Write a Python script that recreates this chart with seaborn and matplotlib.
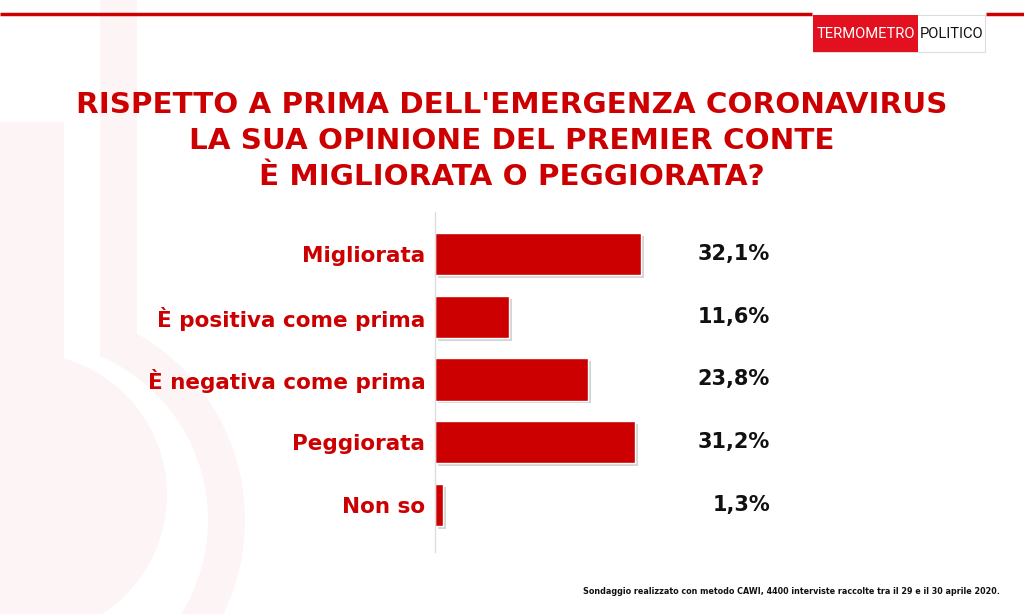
import matplotlib
matplotlib.use("Agg")
import matplotlib.pyplot as plt
import matplotlib.patches as mpatches
import matplotlib.patheffects as pe
import seaborn as sns
import pandas as pd

categories = ["Migliorata", "È positiva come prima", "È negativa come prima", "Peggiorata", "Non so"]
values = [32.1, 11.6, 23.8, 31.2, 1.3]
value_labels = ["32,1%", "11,6%", "23,8%", "31,2%", "1,3%"]
title_lines = "RISPETTO A PRIMA DELL'EMERGENZA CORONAVIRUS\nLA SUA OPINIONE DEL PREMIER CONTE\nÈ MIGLIORATA O PEGGIORATA?"
footer = "Sondaggio realizzato con metodo CAWI, 4400 interviste raccolte tra il 29 e il 30 aprile 2020."

RED = "#cc0000"
FONT = ["DejaVu Sans"]

sns.set_theme(style="white")
plt.rcParams["font.family"] = FONT

W, H = 1024, 614
fig = plt.figure(figsize=(W / 100, H / 100), dpi=100)
fig.patch.set_facecolor("white")

# background decoration axes (pixel coords)
bg = fig.add_axes([0, 0, 1, 1], zorder=0)
bg.set_xlim(0, W)
bg.set_ylim(H, 0)
bg.axis("off")
pink = "#fdf5f5"
bg.add_patch(mpatches.Circle((30, 520), 215, color=pink, lw=0))
bg.add_patch(mpatches.Rectangle((100, 0), 37, 380, color=pink, lw=0))
bg.add_patch(mpatches.Circle((30, 520), 178, color="white", lw=0))
bg.add_patch(mpatches.Rectangle((64, 100), 36, 300, color="white", lw=0))
bg.add_patch(mpatches.Circle((25, 495), 142, color=pink, lw=0))
bg.add_patch(mpatches.Rectangle((0, 122), 64, 300, color=pink, lw=0))

# top red line
bg.plot([0, 812], [14, 14], color=RED, lw=2.5, solid_capstyle="butt")
bg.plot([986, W], [14, 14], color=RED, lw=2.5, solid_capstyle="butt")
# logo
bg.add_patch(mpatches.Rectangle((813, 15), 172, 37, facecolor="white", edgecolor="#dddddd", lw=0.8))
bg.add_patch(mpatches.Rectangle((813, 15), 105, 37, facecolor="#e3101f", lw=0))
bg.text(865.5, 34, "TERMOMETRO", color="white", fontsize=10.6, ha="center", va="center",
        family=["Roboto", "DejaVu Sans"])
bg.text(951.5, 34, "POLITICO", color="#111111", fontsize=10.6, ha="center", va="center",
        family=["Roboto", "DejaVu Sans"])

# title
bg.text(512, 141, title_lines, color=RED, fontsize=21.2, fontweight="bold", ha="center", va="center",
        linespacing=1.38)
# footer
bg.text(1000, 592, footer, color="#111111", fontsize=5.8, fontweight="bold", ha="right", va="center")

# main chart axes
left = 435 / W
bottom = 1 - 552 / H
height = (552 - 212) / H
ax = fig.add_axes([left, bottom, 0.55, height], zorder=1)
ax.patch.set_alpha(0)

df = pd.DataFrame({"cat": categories, "val": values})
sns.barplot(data=df, x="val", y="cat", orient="h", color=RED, saturation=1, width=0.67, ax=ax)
for p in ax.patches:
    p.set_path_effects([pe.SimplePatchShadow(offset=(2, -2), shadow_rgbFace="#aaaaaa", alpha=0.5), pe.Normal()])

px_per_unit = 6.42
ax.set_xlim(0, 0.55 * W / px_per_unit)
ax.set_ylim(4.75, -0.67)
ax.set_xlabel("")
ax.set_ylabel("")
ax.set_xticks([])
ax.set_yticks(range(len(categories)))
ax.set_yticklabels(categories, color=RED, fontsize=15.5, fontweight="bold")
ax.tick_params(axis="y", length=0, pad=7)
for s in ["top", "right", "bottom"]:
    ax.spines[s].set_visible(False)
ax.spines["left"].set_color("#dddddd")
ax.spines["left"].set_linewidth(1)

xlab = (770 - 435) / px_per_unit
for i, lab in enumerate(value_labels):
    ax.text(xlab, i, lab, ha="right", va="center", fontsize=15, fontweight="bold", color="#111111")

fig.savefig("out.png", dpi=100, facecolor="white")
